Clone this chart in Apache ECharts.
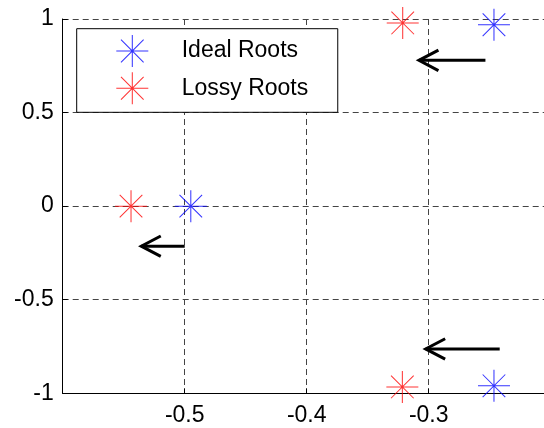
<!DOCTYPE html>
<html>
<head>
<meta charset="utf-8">
<script src="https://cdn.jsdelivr.net/npm/echarts@6/dist/echarts.min.js"></script>
<style>html,body{margin:0;padding:0;background:#fff;}#c{width:544px;height:428px;}</style>
</head>
<body>
<div id="c"></div>
<script>
// Data
const idealX = [-0.495, -0.2465, -0.2465];
const idealY = [0, 0.969, -0.960];
const lossyX = [-0.544, -0.3213, -0.3216];
const lossyY = [0, 0.979, -0.966];
// arrows: start x, end x (tip), y
const arrowStartX = [-0.2535, -0.5, -0.2418];
const arrowEndX = [-0.308, -0.5356, -0.3025];
const arrowY = [0.779, -0.214, -0.763];
const seriesNames = ['Ideal Roots', 'Lossy Roots'];

const STAR = 'path://M0,48.4L100,48.4L100,51.6L0,51.6Z' +
  'M48.4,0L51.6,0L51.6,100L48.4,100Z' +
  'M15.77,13.51L86.49,84.23L84.23,86.49L13.51,15.77Z' +
  'M15.77,86.49L13.51,84.23L84.23,13.51L86.49,15.77Z';

const FONT = 'Liberation Sans';
const chart = echarts.init(document.getElementById('c'), null, {renderer: 'canvas'});

const pts = (xs, ys) => xs.map((x, i) => [x, ys[i]]);
const arrows = arrowStartX.map((x, i) => [x, arrowEndX[i], arrowY[i]]);

chart.setOption({
  animation: false,
  backgroundColor: '#ffffff',
  grid: {left: 62.7, width: 488, top: 19, bottom: 34.7, outerBoundsMode: 'none', containLabel: false},
  legend: {
    orient: 'vertical',
    left: 76.7, top: 28.7,
    data: [{name: seriesNames[0], icon: STAR}, {name: seriesNames[1], icon: STAR}],
    itemWidth: 32, itemHeight: 32, itemGap: 5.3,
    padding: [6.3, 29.5, 8, 39.6],
    borderColor: '#000', borderWidth: 1, borderRadius: 0,
    backgroundColor: '#fff',
    formatter: name => '{g|}{n|' + name + '}',
    textStyle: {
      fontFamily: FONT, fontSize: 23, color: '#000',
      rich: {g: {width: 28.4}, n: {fontFamily: FONT, fontSize: 23, color: '#000'}}
    },
    selectedMode: false
  },
  xAxis: {
    type: 'value', min: -0.6, max: -0.2, interval: 0.1,
    axisLine: {show: true, onZero: false, lineStyle: {color: '#000', width: 1}},
    axisTick: {show: true, inside: true, length: 5, lineStyle: {color: '#000'}},
    axisLabel: {showMinLabel: false, showMaxLabel: false, margin: 11,
      fontFamily: FONT, fontSize: 23, color: '#000',
      formatter: v => String(Math.round(v * 10) / 10)},
    splitLine: {show: true, lineStyle: {color: '#444', type: [6, 4], width: 1}}
  },
  yAxis: {
    type: 'value', min: -1, max: 1, interval: 0.5,
    axisLine: {show: true, onZero: false, lineStyle: {color: '#000', width: 1}},
    axisTick: {show: true, inside: true, length: 5, lineStyle: {color: '#000'}},
    axisLabel: {margin: 9, fontFamily: FONT, fontSize: 23, color: '#000'},
    splitLine: {show: true, lineStyle: {color: '#444', type: [6, 4], width: 1}}
  },
  series: [
    {
      name: seriesNames[0], type: 'scatter', data: pts(idealX, idealY),
      symbol: STAR, symbolSize: 32,
      itemStyle: {color: '#0000ff'}, z: 5
    },
    {
      name: seriesNames[1], type: 'scatter', data: pts(lossyX, lossyY),
      symbol: STAR, symbolSize: 32,
      itemStyle: {color: '#ff0000'}, z: 5
    },
    {
      type: 'custom', data: arrows, z: 6, silent: true,
      encode: {x: [0, 1], y: 2},
      renderItem: function (params, api) {
        const s = api.coord([api.value(0), api.value(2)]);
        const e = api.coord([api.value(1), api.value(2)]);
        const dx = s[0] - e[0], dy = s[1] - e[1];
        const len = Math.sqrt(dx * dx + dy * dy) || 1;
        const ux = dx / len, uy = dy / len;
        const L = 22, a = 27.6 * Math.PI / 180;
        const ca = Math.cos(a), sa = Math.sin(a);
        const p1 = [e[0] + L * (ux * ca - uy * sa), e[1] + L * (uy * ca + ux * sa)];
        const p2 = [e[0] + L * (ux * ca + uy * sa), e[1] + L * (uy * ca - ux * sa)];
        const st = {stroke: '#000', lineWidth: 3, fill: null, lineJoin: 'miter', lineCap: 'butt'};
        return {
          type: 'group',
          children: [
            {type: 'line', shape: {x1: s[0], y1: s[1], x2: e[0], y2: e[1]}, style: st},
            {type: 'polyline', shape: {points: [p1, e, p2]}, style: st}
          ]
        };
      }
    }
  ]
});
</script>
</body>
</html>
